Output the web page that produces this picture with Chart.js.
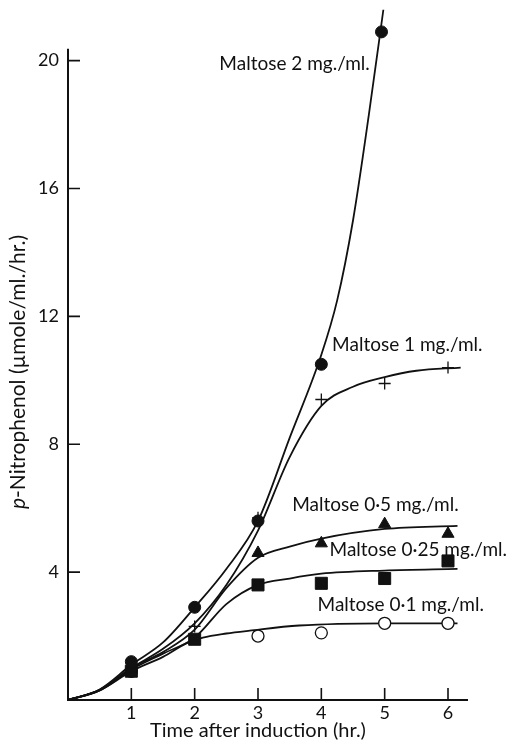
<!DOCTYPE html>
<html>
<head>
<meta charset="utf-8">
<script src="https://cdn.jsdelivr.net/npm/chart.js@4.4.1/dist/chart.umd.min.js"></script>
<style>
  html, body { margin: 0; padding: 0; background: #fff; }
  #wrap { width: 507px; height: 742px; }
</style>
</head>
<body>
<div id="wrap"><canvas id="myChart" width="507" height="742"></canvas></div>
<script>
// measured points (hours after induction)
var hours = [1, 2, 3, 4, 5, 6];
var m2Hours = [1, 2, 3, 4, 4.95];
var m2Points = [1.2, 2.9, 5.6, 10.5, 20.9];
var m1Points = [1.0, 2.3, 5.7, 9.4, 9.9, 10.4];
var m05Points = [1.0, null, 4.6, 4.9, 5.5, 5.2];
var m025Points = [0.9, 1.9, 3.6, 3.65, 3.8, 4.35];
var m01Points = [0.9, null, 2.0, 2.1, 2.4, 2.4];

// fitted curves
var m2CurveX = [0, 0.5, 1, 1.5, 2, 2.5, 3, 3.5, 4, 4.25, 4.5, 4.75, 4.98];
var m2CurveY = [0, 0.33, 1.1, 1.8, 2.9, 4.1, 5.6, 8.2, 10.8, 12.5, 15.0, 18.3, 21.6];
var m1CurveX = [0, 0.5, 1, 1.5, 2, 2.5, 3, 3.5, 4, 4.5, 5, 5.5, 6.2];
var m1CurveY = [0, 0.32, 1.0, 1.6, 2.4, 3.6, 5.3, 7.6, 9.2, 9.8, 10.1, 10.3, 10.4];
var m05CurveX = [0, 0.5, 1, 1.5, 2, 2.5, 3, 3.5, 4, 5, 6.15];
var m05CurveY = [0, 0.31, 1.0, 1.5, 2.2, 3.5, 4.45, 4.8, 5.05, 5.35, 5.45];
var m025CurveX = [0, 0.5, 1, 1.5, 2, 2.5, 3, 3.5, 4, 5, 6.15];
var m025CurveY = [0, 0.3, 0.95, 1.45, 1.95, 3.0, 3.6, 3.8, 3.95, 4.05, 4.1];
var m01CurveX = [0, 0.5, 1, 1.5, 1.87, 2.13, 2.5, 2.87, 3.65, 5, 6.15];
var m01CurveY = [0, 0.3, 0.9, 1.35, 1.77, 1.95, 2.08, 2.17, 2.33, 2.4, 2.4];

var yTicks = [4, 8, 12, 16, 20];
var xTicks = [1, 2, 3, 4, 5, 6];
var yAxisTop = 20.37;

var xTitle = 'Time after induction (hr.)';
var yTitleItalic = 'p';
var yTitleRest = '-Nitrophenol (µmole/ml./hr.)';

// curve labels, anchored in data units (left edge, middle)
var curveLabels = ['Maltose 2 mg./ml.', 'Maltose 1 mg./ml.', 'Maltose 0·5 mg./ml.', 'Maltose 0·25 mg./ml.', 'Maltose 0·1 mg./ml.'];
var labelAtX = [2.39, 4.17, 3.54, 4.13, 3.94];
var labelAtY = [19.9, 11.1, 6.1, 4.7, 2.98];

var ink = '#111';
var font = 'Lato, "Open Sans", sans-serif';

function pts(xs, ys) {
    var out = [];
    for (var i = 0; i < xs.length; i++) {
        if (ys[i] !== null) out.push({x: xs[i], y: ys[i]});
    }
    return out;
}

function curve(xs, ys) {
    return {
        data: pts(xs, ys),
        showLine: true,
        borderColor: ink,
        borderWidth: 1.8,
        pointRadius: 0,
        cubicInterpolationMode: 'monotone',
        fill: false,
        order: 2
    };
}

function marks(xs, ys, style, r, filled) {
    return {
        data: pts(xs, ys),
        showLine: false,
        pointStyle: style,
        pointRadius: r,
        pointBackgroundColor: filled ? ink : '#fff',
        pointBorderColor: ink,
        pointBorderWidth: filled ? 1 : 1.3,
        clip: false,
        order: 0
    };
}

// y axis line (stops short of the top), inward ticks, titles, curve labels
var inwardTicks = {
    id: 'inwardTicks',
    afterDatasetsDraw: function(chart) {
        var c = chart.ctx, xs = chart.scales.x, ys = chart.scales.y;
        var left = chart.chartArea.left, bottom = chart.chartArea.bottom;
        c.save();
        c.strokeStyle = ink;
        c.lineWidth = 2;
        c.beginPath();
        c.moveTo(left, bottom + 1);
        c.lineTo(left, ys.getPixelForValue(yAxisTop));
        c.stroke();
        c.lineWidth = 1.6;
        c.beginPath();
        yTicks.forEach(function(v) {
            var py = ys.getPixelForValue(v);
            c.moveTo(left, py);
            c.lineTo(left + 12, py);
        });
        xTicks.forEach(function(v) {
            var px = xs.getPixelForValue(v);
            c.moveTo(px, bottom);
            c.lineTo(px, bottom - 12);
        });
        c.stroke();

        c.fillStyle = ink;
        c.textBaseline = 'middle';
        c.textAlign = 'left';
        c.font = '19px ' + font;
        curveLabels.forEach(function(t, i) {
            c.fillText(t, xs.getPixelForValue(labelAtX[i]), ys.getPixelForValue(labelAtY[i]));
        });

        // x title
        c.font = '20px ' + font;
        c.textAlign = 'center';
        c.fillText(xTitle, 258, 731);

        // y title, rotated, italic p
        var fItal = 'italic 21px ' + font, fNorm = '21px ' + font;
        c.font = fItal;
        var w1 = c.measureText(yTitleItalic).width;
        c.font = fNorm;
        var w2 = c.measureText(yTitleRest).width;
        c.translate(18, 372);
        c.rotate(-Math.PI / 2);
        c.textAlign = 'left';
        var x0 = -(w1 + w2) / 2;
        c.font = fItal;
        c.fillText(yTitleItalic, x0, 0);
        c.font = fNorm;
        c.fillText(yTitleRest, x0 + w1, 0);
        c.restore();
    }
};

document.addEventListener("DOMContentLoaded", () => {
    var ctx = document.getElementById('myChart').getContext('2d');
    var chart = new Chart(ctx, {
        type: 'scatter',
        data: {
            datasets: [
                curve(m2CurveX, m2CurveY),
                curve(m1CurveX, m1CurveY),
                curve(m05CurveX, m05CurveY),
                curve(m025CurveX, m025CurveY),
                curve(m01CurveX, m01CurveY),
                marks(m2Hours, m2Points, 'circle', 6, true),
                marks(hours, m1Points, 'cross', 6, false),
                marks(hours, m05Points, 'triangle', 7, true),
                marks(hours, m025Points, 'rect', 8.5, true),
                marks(hours, m01Points, 'circle', 6, false)
            ]
        },
        options: {
            responsive: false,
            animation: false,
            layout: { padding: { left: 6, top: 3, right: 40, bottom: 0 } },
            plugins: {
                legend: { display: false },
                tooltip: { enabled: false }
            },
            scales: {
                x: {
                    type: 'linear',
                    min: 0,
                    max: 6.3,
                    afterFit: function(s) { s.height = 42; s.paddingLeft = 0; s.paddingRight = 0; },
                    afterBuildTicks: function(s) { s.ticks = xTicks.map(function(v) { return {value: v}; }); },
                    grid: { drawOnChartArea: false, drawTicks: false },
                    border: { display: true, color: ink, width: 2 },
                    ticks: { color: ink, font: { family: font, size: 18 }, padding: 2 },
                    title: { display: false }
                },
                y: {
                    type: 'linear',
                    min: 0,
                    max: 21.6,
                    afterFit: function(s) { s.width = 62; s.paddingTop = 0; s.paddingBottom = 0; },
                    afterBuildTicks: function(s) { s.ticks = yTicks.map(function(v) { return {value: v}; }); },
                    grid: { drawOnChartArea: false, drawTicks: false },
                    border: { display: false },
                    ticks: { color: ink, font: { family: font, size: 18 }, padding: 9 },
                    title: { display: false }
                }
            }
        },
        plugins: [inwardTicks]
    });
});
</script>
</body>
</html>
